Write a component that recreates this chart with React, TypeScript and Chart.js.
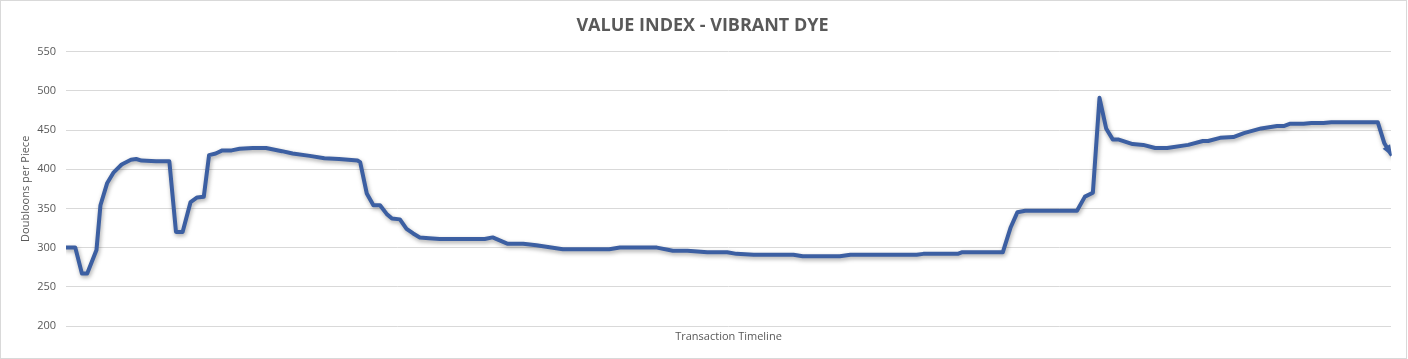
import React, { useEffect, useRef } from "react";
import { Chart, registerables } from "chart.js";

Chart.register(...registerables);

const chartTitle = "VALUE INDEX - VIBRANT DYE";
const xAxisTitle = "Transaction Timeline";
const yAxisTitle = "Doubloons per Piece";
const yTicks = [200, 250, 300, 350, 400, 450, 500, 550];

// transaction index (0..1000) along the timeline
const transactions = [
  0, 7, 12, 16, 23, 26, 31, 36, 42, 49, 53, 57, 68, 78, 83, 88, 94, 99, 104, 108,
  113, 118, 125, 131, 141, 151, 163, 171, 184, 195, 206, 220, 222, 227, 232, 237, 242, 246, 252, 257,
  262, 267, 274, 282, 305, 316, 322, 333, 345, 355, 375, 410, 418, 446, 458, 469, 484, 499, 506, 519,
  549, 556, 584, 592, 642, 647, 673, 676, 707, 713, 718, 724, 763, 769, 775, 780, 785, 790, 794, 805,
  813, 822, 831, 847, 858, 862, 871, 881, 889, 902, 914, 919, 924, 934, 940, 949, 955, 990, 995, 1000,
];

// doubloons per piece
const prices = [
  300, 300, 267, 267, 297, 354, 382, 396, 406, 412, 413, 411, 410, 410, 320, 320, 358, 364, 365, 418,
  420, 424, 424, 426, 427, 427, 423, 420, 417, 414, 413, 411, 409, 369, 354, 354, 343, 337, 336, 324,
  318, 313, 312, 311, 311, 311, 313, 305, 305, 303, 298, 298, 300, 300, 296, 296, 294, 294, 292, 291,
  291, 289, 289, 291, 291, 292, 292, 294, 294, 326, 345, 347, 347, 365, 370, 491, 452, 438, 438, 432,
  431, 427, 427, 431, 436, 436, 440, 441, 446, 452, 455, 455, 458, 458, 459, 459, 460, 460, 433, 419,
];

const LINE_COLOR = "#3C5FA2";

const shadowPlugin = {
  id: "lineShadow",
  beforeDatasetDraw(chart: any) {
    const ctx = chart.ctx;
    ctx.save();
    ctx.shadowColor = "rgba(0,0,0,0.35)";
    ctx.shadowBlur = 4;
    ctx.shadowOffsetX = 1;
    ctx.shadowOffsetY = 2;
  },
  afterDatasetDraw(chart: any) {
    chart.ctx.restore();
  },
};

const arrowPlugin = {
  id: "endArrow",
  afterDatasetsDraw(chart: any) {
    const meta = chart.getDatasetMeta(0);
    const pts = meta.data;
    if (pts.length < 2) return;
    const a = pts[pts.length - 2];
    const b = pts[pts.length - 1];
    const ang = Math.atan2(b.y - a.y, b.x - a.x);
    const len = 10;
    const half = 0.45;
    const ctx = chart.ctx;
    ctx.save();
    ctx.fillStyle = LINE_COLOR;
    ctx.beginPath();
    ctx.moveTo(b.x + Math.cos(ang) * 2, b.y + Math.sin(ang) * 2);
    ctx.lineTo(b.x - Math.cos(ang - half) * len, b.y - Math.sin(ang - half) * len);
    ctx.lineTo(b.x - Math.cos(ang + half) * len, b.y - Math.sin(ang + half) * len);
    ctx.closePath();
    ctx.fill();
    ctx.restore();
  },
};

export default function App() {
  const canvasRef = useRef<HTMLCanvasElement | null>(null);

  useEffect(() => {
    document.body.style.margin = "0";
    const canvas = canvasRef.current;
    if (!canvas) return;
    const chart = new Chart(canvas, {
      type: "line",
      data: {
        datasets: [
          {
            data: transactions.map((t, i) => ({ x: t, y: prices[i] })),
            borderColor: LINE_COLOR,
            borderWidth: 4,
            pointRadius: 0,
            tension: 0,
            fill: false,
            borderJoinStyle: "round",
            borderCapStyle: "round",
          },
        ],
      },
      options: {
        animation: false,
        responsive: false,
        maintainAspectRatio: false,
        layout: { padding: { left: 13, right: 15, top: 0, bottom: 0 } },
        plugins: {
          legend: { display: false },
          tooltip: { enabled: false },
          title: {
            display: true,
            text: chartTitle,
            color: "#595959",
            font: { family: "Open Sans", size: 18, weight: "bold", lineHeight: 1.2 },
            padding: { top: 14, bottom: 15 },
          },
        },
        scales: {
          x: {
            type: "linear",
            min: 0,
            max: 1000,
            grid: { display: false, drawTicks: false },
            border: { display: false },
            ticks: { display: false },
            title: {
              display: true,
              text: xAxisTitle,
              color: "#595959",
              font: { family: "Open Sans", size: 11, lineHeight: 1.2 },
              padding: { top: 0, bottom: 15 },
            },
            afterFit(scale: any) {
              scale.height = 32;
            },
          },
          y: {
            min: 200,
            max: 550,
            afterBuildTicks(scale: any) {
              scale.ticks = yTicks.map((v) => ({ value: v }));
            },
            grid: { color: "#D9D9D9", lineWidth: 1, drawTicks: false },
            border: { display: false },
            ticks: {
              color: "#595959",
              font: { family: "Open Sans", size: 11 },
              padding: 10,
            },
            title: {
              display: true,
              text: yAxisTitle,
              color: "#595959",
              font: { family: "Open Sans", size: 11, lineHeight: 1.2 },
              padding: { top: 5, bottom: 0 },
            },
            afterFit(scale: any) {
              scale.width = 52;
            },
          },
        },
      },
      plugins: [shadowPlugin, arrowPlugin],
    });
    return () => chart.destroy();
  }, []);

  return (
    <div
      style={{
        width: 1407,
        height: 359,
        boxSizing: "border-box",
        border: "1px solid #D9D9D9",
        position: "relative",
        background: "#fff",
      }}
    >
      <canvas
        ref={canvasRef}
        width={1405}
        height={357}
        style={{ position: "absolute", left: 0, top: 0, width: 1405, height: 357 }}
      />
    </div>
  );
}
